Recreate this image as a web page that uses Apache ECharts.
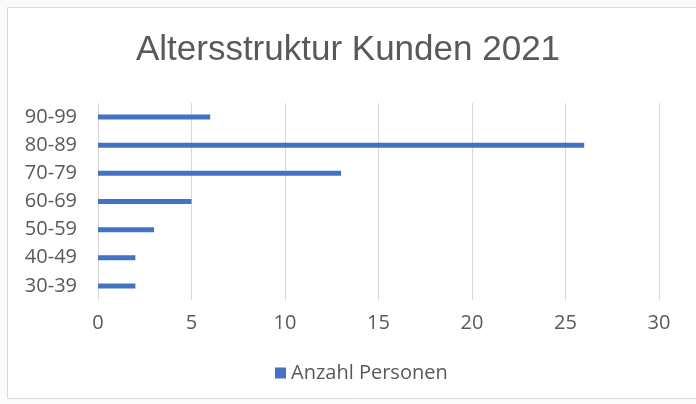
<!DOCTYPE html>
<html>
<head>
<meta charset="utf-8">
<script src="https://cdn.jsdelivr.net/npm/echarts@6/dist/echarts.min.js"></script>
<style>
  html, body { margin: 0; padding: 0; background: #fbfbfb; }
  #chart { width: 696px; height: 404px; }
</style>
</head>
<body>
<div id="chart"></div>
<script>
// Age groups (bottom to top) and number of customers per group
const ageGroups = ['30-39', '40-49', '50-59', '60-69', '70-79', '80-89', '90-99'];
const personCounts = [2, 2, 3, 5, 13, 26, 6];
const xTicks = { min: 0, max: 30, interval: 5 };
const seriesName = 'Anzahl Personen';
const titleText = 'Altersstruktur Kunden 2021';

const chart = echarts.init(document.getElementById('chart'), null, { renderer: 'canvas' });

chart.setOption({
  animation: false,
  backgroundColor: '#fbfbfb',
  graphic: [{
    type: 'rect',
    z: -10,
    shape: { x: 7.5, y: 7.5, width: 700, height: 391 },
    style: { fill: '#ffffff', stroke: '#d9d9d9', lineWidth: 1 }
  }],
  title: {
    text: titleText,
    left: 'center',
    top: 28,
    textStyle: {
      fontFamily: 'Liberation Sans, Arial, sans-serif',
      fontSize: 35,
      fontWeight: 'normal',
      color: '#595959'
    }
  },
  legend: {
    top: 358,
    left: 270,
    itemWidth: 11,
    itemHeight: 11,
    itemGap: 6,
    icon: 'rect',
    textStyle: { fontFamily: 'Open Sans, sans-serif', fontSize: 20, color: '#595959' },
    data: [seriesName]
  },
  grid: { left: 98, right: 37, top: 103, height: 197, containLabel: false },
  xAxis: {
    type: 'value',
    min: xTicks.min,
    max: xTicks.max,
    interval: xTicks.interval,
    axisLine: { show: false },
    axisTick: { show: false },
    splitLine: { show: true, lineStyle: { color: '#d9d9d9', width: 1 } },
    axisLabel: {
      margin: 13,
      fontFamily: 'Open Sans, sans-serif',
      fontSize: 20,
      color: '#595959'
    }
  },
  yAxis: {
    type: 'category',
    data: ageGroups,
    axisLine: { show: false },
    axisTick: { show: false },
    splitLine: { show: false },
    axisLabel: {
      margin: 21,
      fontFamily: 'Open Sans, sans-serif',
      fontSize: 20,
      color: '#595959'
    }
  },
  series: [{
    name: seriesName,
    type: 'bar',
    data: personCounts,
    barWidth: 5,
    itemStyle: { color: '#4472c4' }
  }]
});
</script>
</body>
</html>
